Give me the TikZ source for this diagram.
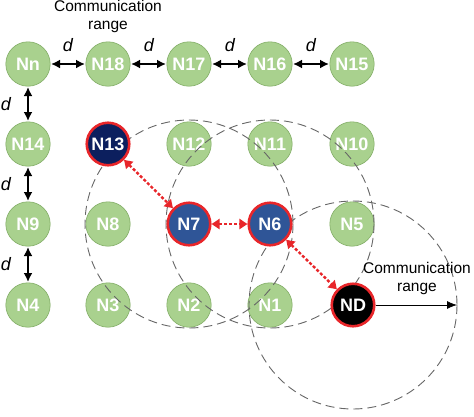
\documentclass[tikz,border=0pt]{standalone}
\usepackage{fontspec}
\setmainfont{Liberation Sans}
\usetikzlibrary{arrows.meta}
\definecolor{ngreen}{HTML}{A9D18E}
\definecolor{ngreenb}{HTML}{82AD66}
\definecolor{nnavy}{HTML}{0C1F5E}
\definecolor{nblue}{HTML}{2F5597}
\definecolor{nred}{HTML}{E8262A}
\definecolor{cgray}{HTML}{666666}
\begin{document}
\begin{tikzpicture}[x=1pt,y=-1pt,
  nodebase/.style={circle,inner sep=0pt,font=\fontsize{18}{18}\selectfont\bfseries,text=white},
  gnode/.style={nodebase,minimum size=44.4pt,fill=ngreen,draw=ngreenb,line width=0.6pt},
  rnode/.style={nodebase,minimum size=42.5pt,draw=nred,line width=2.6pt},
  darr/.style={{Latex[length=9pt,width=9pt]}-{Latex[length=9pt,width=9pt]},line width=1.8pt,black,shorten <=0.5pt,shorten >=0.5pt},
  rarr/.style={{Triangle[length=8pt,width=10pt]}-{Triangle[length=8pt,width=10pt]},nred,line width=2.4pt,dash pattern=on 3pt off 2pt},
  rangecirc/.style={cgray,line width=0.9pt,dash pattern=on 9pt off 5pt},
  dlabel/.style={font=\fontsize{18}{18}\selectfont\itshape},
  ctext/.style={font=\fontsize{15.5}{18}\selectfont,align=center,text=black}]
\useasboundingbox (0,0) rectangle (474,416);
% green nodes
\node[gnode] (Nn)  at (28,64)  {Nn};
\node[gnode] (N18) at (108,64) {N18};
\node[gnode] (N17) at (189,64) {N17};
\node[gnode] (N16) at (270,64) {N16};
\node[gnode] (N15) at (352,64) {N15};
\node[gnode] (N14) at (28,144) {N14};
\node[gnode] (N12) at (189,144) {N12};
\node[gnode] (N11) at (270,144) {N11};
\node[gnode] (N10) at (352,144) {N10};
\node[gnode] (N9) at (28,224) {N9};
\node[gnode] (N8) at (108,224) {N8};
\node[gnode] (N5) at (352,224) {N5};
\node[gnode] (N4) at (28,305) {N4};
\node[gnode] (N3) at (108,305) {N3};
\node[gnode] (N2) at (189,305) {N2};
\node[gnode] (N1) at (270,305) {N1};
% relay node centres for range circles
\coordinate (c7) at (189,224);
\coordinate (c6) at (270,224);
\coordinate (cD) at (353,305);
\draw[rangecirc] (c7) circle (104);
\draw[rangecirc] (c6) circle (104);
\draw[rangecirc] (cD) circle (104);
% relay nodes
\node[rnode,fill=nnavy] (N13) at (108,144) {N13};
\node[rnode,fill=nblue] (N7) at (189,224) {N7};
\node[rnode,fill=nblue] (N6) at (270,224) {N6};
\node[rnode,fill=black] (ND) at (353,305) {ND};
% distance arrows
\draw[darr] (Nn) -- (N18);
\draw[darr] (N18) -- (N17);
\draw[darr] (N17) -- (N16);
\draw[darr] (N16) -- (N15);
\draw[darr] (Nn) -- (N14);
\draw[darr] (N14) -- (N9);
\draw[darr] (N9) -- (N4);
\node[dlabel] (d1) at (68,45) {d};
\node[dlabel] (d2) at (149,45) {d};
\node[dlabel] (d3) at (230,45) {d};
\node[dlabel] (d4) at (311,45) {d};
\node[dlabel] (d5) at (6,104) {d};
\node[dlabel] (d6) at (6,184) {d};
\node[dlabel] (d7) at (6,264) {d};
% routing path
\draw[rarr] (N13) -- (N7);
\draw[rarr] (N7) -- (N6);
\draw[rarr] (N6) -- (ND);
% communication range
\node[ctext] (ct1) at (108,16) {Communication\\range};
\node[ctext] (ct2) at (417,278) {Communication\\range};
\coordinate (rangeend) at (457,305);
\draw[-{Latex[length=10pt,width=8pt]},line width=0.8pt] (ND) -- (rangeend);
\end{tikzpicture}
\end{document}
